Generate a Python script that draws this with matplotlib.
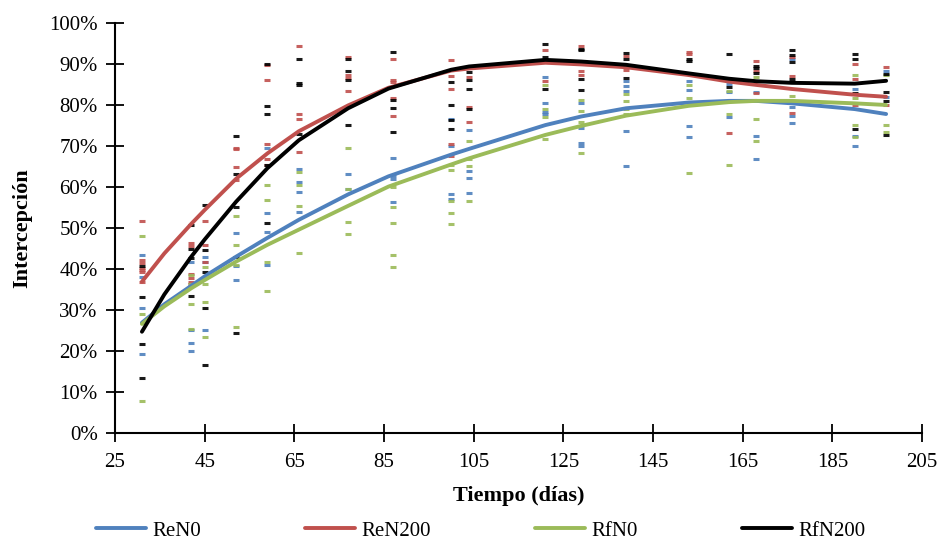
import matplotlib

matplotlib.use("Agg")
import matplotlib.pyplot as plt
from matplotlib.ticker import FuncFormatter, MultipleLocator

# sampling days (días)
days = [31, 42, 45, 52, 59, 66, 77, 87, 100, 104, 121, 129, 139, 153, 162, 168, 176, 190, 197]

# interception readings (%) per sampling day
ren0 = [
    [43.3, 38.1, 30.4, 19.2], [41.8, 25.2, 21.9, 20.1], [42.9, 41.6, 25.2],
    [48.7, 40.7, 37.3], [69.4, 53.6, 49.1, 41.0], [64.3, 61.2, 58.7, 54.0],
    [63.1, 59.5], [67.0, 62.7, 61.9, 56.4], [76.7, 70.0, 58.2, 57.0],
    [73.9, 63.9, 62.3, 58.6], [86.9, 80.4, 78.3, 77.8], [80.5, 74.4, 70.8, 70.0],
    [85.9, 84.7, 83.4, 73.7, 65.1], [85.9, 83.6, 74.9, 72.1], [85.0, 83.1, 77.1],
    [83.2, 72.5, 66.8], [91.1, 79.4, 77.3, 75.7], [83.9, 72.4, 70.0], [88.3, 82.0],
]
ren200 = [
    [51.7, 42.2, 41.4, 40.3, 39.8, 39.2, 36.9], [46.3, 45.7, 38.7, 37.9, 36.9, 36.4],
    [51.7, 45.9, 41.6], [69.6, 69.3, 64.8, 61.7], [89.7, 86.0, 70.4, 66.8, 65.3],
    [94.4, 77.8, 76.5, 68.6], [91.7, 87.3, 86.5, 83.4], [91.1, 86.0, 85.5, 81.8, 77.3],
    [90.9, 87.0, 84.0, 70.6, 67.5], [86.9, 79.5, 75.9], [93.5, 85.8],
    [94.3, 88.2, 87.3], [91.9, 88.5], [93.0, 92.4], [73.1], [90.7, 88.2, 83.0],
    [91.7, 87.1, 78.1], [90.1, 86.4, 80.0], [89.3, 80.0],
]
rfn0 = [
    [48.1, 29.0, 7.9], [38.5, 36.4, 31.5, 25.4], [40.4, 36.3, 31.9, 23.4],
    [53.0, 45.9, 41.0, 25.8], [60.5, 56.8, 41.8, 34.7], [63.6, 60.6, 55.4, 43.8],
    [69.4, 59.4, 51.4, 48.5], [60.1, 55.0, 51.3, 43.3, 40.6],
    [65.3, 64.1, 56.6, 53.7, 51.0], [71.2, 66.8, 65.2, 56.7],
    [84.8, 79.1, 77.1, 71.6], [81.2, 78.6, 75.9, 68.4], [82.8, 81.0, 79.1, 77.8],
    [84.8, 81.8, 63.5], [83.4, 77.8, 65.3], [86.9, 76.5, 71.2], [82.1],
    [87.3, 81.7, 75.2, 72.1], [87.3, 75.2, 73.3],
]
rfn200 = [
    [40.7, 33.1, 21.8, 13.3], [50.7, 44.9, 42.6, 33.5], [55.6, 44.6, 39.2, 30.6, 16.6],
    [72.5, 63.1, 55.2, 43.0, 24.5], [90.1, 79.7, 77.7, 65.3, 51.3],
    [91.2, 85.3, 84.9, 72.9], [91.1, 88.2, 86.0, 75.2], [92.9, 81.3, 79.3, 73.5],
    [85.5, 80.0, 76.3, 74.1], [88.1, 86.2, 84.0, 78.9], [94.8, 91.7, 84.0],
    [93.7, 93.4, 86.3, 83.6], [92.8, 91.1, 86.7], [91.3, 90.8], [92.4, 84.3],
    [89.6, 88.9, 87.7], [93.3, 92.3, 90.5, 86.4], [92.4, 91.2, 83.0, 74.1],
    [87.5, 83.2, 81.0, 72.8],
]

# trend lines (%)
trend_days = [31, 36, 42, 45, 52, 59, 66, 77, 86, 100, 104, 121, 129, 139, 153, 162, 168, 176, 190, 197]
ren0_trend = [26.9, 31.4, 35.9, 38.2, 43.0, 47.6, 52.0, 58.2, 62.6, 67.9, 69.3, 75.1, 77.2, 79.2,
              80.6, 81.0, 81.0, 80.4, 79.0, 77.8]
ren200_trend = [36.9, 43.8, 51.0, 54.4, 62.0, 68.2, 73.6, 79.9, 84.2, 88.4, 88.9, 90.3, 89.9, 89.2,
                87.3, 85.7, 84.9, 83.9, 82.5, 82.0]
rfn0_trend = [26.6, 30.9, 35.3, 37.3, 41.8, 45.9, 49.6, 55.4, 60.1, 65.5, 67.0, 72.7, 74.9, 77.4,
              79.8, 80.7, 81.0, 81.0, 80.4, 80.0]
rfn200_trend = [24.7, 33.8, 43.0, 47.2, 56.4, 64.6, 71.4, 79.2, 84.0, 88.6, 89.4, 91.0, 90.6, 89.8,
                87.7, 86.4, 85.8, 85.4, 85.2, 85.9]

series = [
    ("ReN0", ren0, ren0_trend, "#4F81BD"),
    ("ReN200", ren200, ren200_trend, "#C0504D"),
    ("RfN0", rfn0, rfn0_trend, "#9BBB59"),
    ("RfN200", rfn200, rfn200_trend, "#000000"),
]

plt.rcParams["font.family"] = ["Liberation Serif", "DejaVu Serif"]

fig = plt.figure(figsize=(9.46, 5.42), dpi=100)
ax = fig.add_axes([0.1216, 0.2011, 0.853, 0.7565])

# scatter first, trend lines on top
for name, vals, trend, color in series:
    xs = [d for d, v in zip(days, vals) for _ in v]
    ys = [y / 100 for v in vals for y in v]
    ax.plot(xs, ys, linestyle="none", marker="_", markersize=4,
            markeredgewidth=2.2, color=color, alpha=0.9, zorder=2)

for name, vals, trend, color in series:
    ax.plot(trend_days, [t / 100 for t in trend], color=color, lw=2.8,
            label=name, zorder=3, solid_capstyle="round", solid_joinstyle="round")

ax.set_xlim(25, 205)
ax.set_ylim(0, 1.0)
ax.set_xticks(range(25, 206, 20))
ax.yaxis.set_major_locator(MultipleLocator(0.1))
ax.yaxis.set_major_formatter(FuncFormatter(lambda v, _: f"{v * 100:.0f}%"))

for side in ("top", "right"):
    ax.spines[side].set_visible(False)
for side in ("left", "bottom"):
    ax.spines[side].set_linewidth(1.5)
ax.tick_params(direction="inout", length=13, width=1.3, labelsize=15)
ax.tick_params(axis="x", pad=8)
ax.tick_params(axis="y", pad=6)

ax.set_xlabel("Tiempo (días)", fontsize=16, fontweight="bold", labelpad=10)
ax.set_ylabel("Intercepción", fontsize=16, fontweight="bold", labelpad=12)

fig.legend(loc="lower center", ncol=4, frameon=False, fontsize=15,
           bbox_to_anchor=(0.508, -0.032), handlelength=2.4, columnspacing=5.0,
           handletextpad=0.3)

fig.savefig("out.png", dpi=100)
